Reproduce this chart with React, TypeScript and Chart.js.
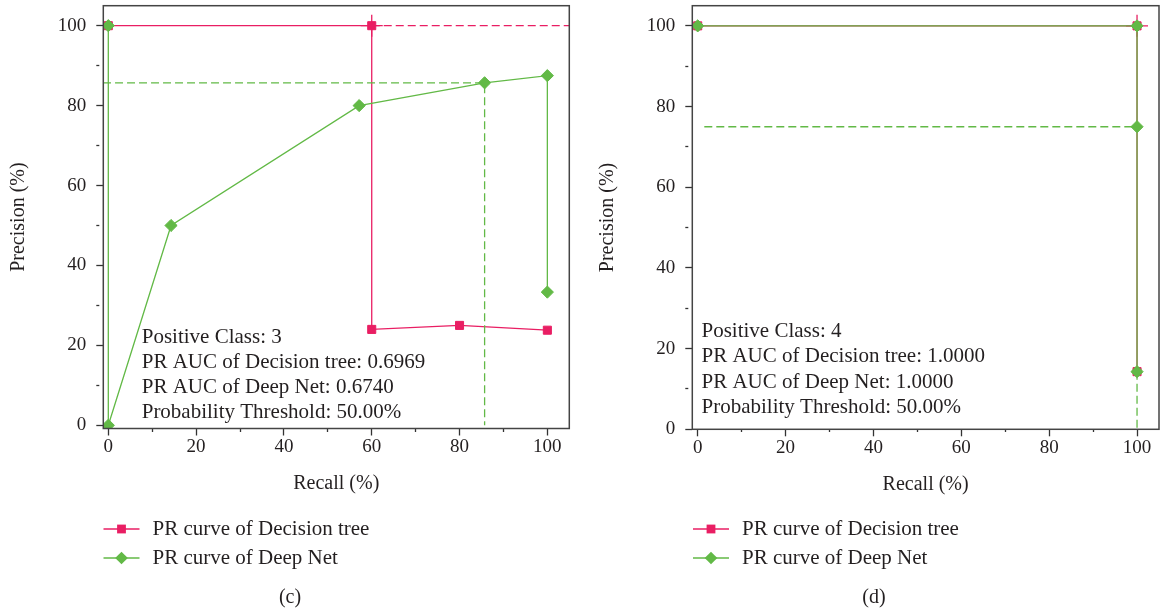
import React, { useEffect, useRef } from 'react';
import { Chart, registerables } from 'chart.js';

Chart.register(...registerables);

const FONT = "'Liberation Serif', 'Times New Roman', serif";
const TEXT = '#231f20';
const RED = '#e91e63';
const GREEN = '#62b946';
const FRAME = '#444444';

// tick values (both axes, both panels)
const majorTicks = [0, 20, 40, 60, 80, 100];
const minorTicks = [10, 30, 50, 70, 90];

const legendLabels = ['PR curve of Decision tree', 'PR curve of Deep Net'];
const xTitle = 'Recall (%)';
const yTitle = 'Precision (%)';

// ---- panel (c): positive class 3 ----
const cTreeRecall = [0, 60, 60, 80, 100];
const cTreePrecision = [100, 100, 24.0, 25.0, 23.8];
const cNetRecall = [0, 0, 14.29, 57.14, 85.71, 100, 100];
const cNetPrecision = [100, 0, 50, 80, 85.71, 87.5, 33.33];
const cTreeThresholdRecall = [60];
const cTreeThresholdPrecision = [100];
const cTreeGuideRecall = [60, 105];
const cTreeGuidePrecision = [100, 100];
const cNetGuideRecall = [-1.2, 85.71, 85.71];
const cNetGuidePrecision = [85.71, 85.71, 0];
const cInfo = [
  'Positive Class: 3',
  'PR AUC of Decision tree: 0.6969',
  'PR AUC of Deep Net: 0.6740',
  'Probability Threshold: 50.00%',
];

// ---- panel (d): positive class 4 ----
const dTreeRecall = [0, 100, 100];
const dTreePrecision = [100, 100, 14.29];
const dNetRecall = [0, 100, 100, 100];
const dNetPrecision = [100, 100, 75, 14.29];
const dTreeThresholdRecall = [100];
const dTreeThresholdPrecision = [100];
const dNetGuideARecall = [1.5, 100];
const dNetGuideAPrecision = [75, 75];
const dNetGuideBRecall = [100, 100];
const dNetGuideBPrecision = [14.29, 0];
const dInfo = [
  'Positive Class: 4',
  'PR AUC of Decision tree: 1.0000',
  'PR AUC of Deep Net: 1.0000',
  'Probability Threshold: 50.00%',
];

const zip = (xs: number[], ys: number[]) => xs.map((x, i) => ({ x, y: ys[i] }));

const curve = (label: string, color: string, style: string, data: any[], order: number, legendIndex: number) => ({
  label,
  legendIndex,
  data,
  showLine: true,
  borderColor: color,
  backgroundColor: color,
  borderWidth: 1.3,
  pointStyle: style,
  pointRadius: style === 'rect' ? 5.7 : 6.1,
  pointBackgroundColor: color,
  pointBorderColor: color,
  pointBorderWidth: 1,
  order,
});

const guide = (color: string, data: any[], order: number) => ({
  label: 'guide',
  data,
  showLine: true,
  borderColor: color,
  borderWidth: 1.3,
  borderDash: [8, 4],
  pointRadius: 0,
  order,
});

const cross = (color: string, data: any[], order: number) => ({
  label: 'threshold',
  data,
  showLine: false,
  pointStyle: 'cross',
  pointRadius: 11,
  pointBorderColor: color,
  pointBackgroundColor: color,
  pointBorderWidth: 1.3,
  order,
});

const panels = [
  {
    key: 'c',
    caption: '(c)',
    info: cInfo,
    layout: {
      yAxisWidth: 103.3, padRight: 10.7, padBottom: 115.5, yTitlePad: 6.5,
      xMin: -1.14, yMin: -0.8,
      infoX: 141.7, infoY: 337, infoGap: 25.2,
      legendX: 103.5, legendY: 529, legendGap: 29,
      captionX: 290, captionY: 598,
    },
    datasets: [
      curve(legendLabels[1], GREEN, 'rectRot', zip(cNetRecall, cNetPrecision), 1, 1),
      guide(GREEN, zip(cNetGuideRecall, cNetGuidePrecision), 2),
      curve(legendLabels[0], RED, 'rect', zip(cTreeRecall, cTreePrecision), 3, 0),
      guide(RED, zip(cTreeGuideRecall, cTreeGuidePrecision), 4),
      cross(RED, zip(cTreeThresholdRecall, cTreeThresholdPrecision), 5),
    ],
  },
  {
    key: 'd',
    caption: '(d)',
    info: dInfo,
    layout: {
      yAxisWidth: 112.3, padRight: 1, padBottom: 114.7, yTitlePad: 15.8,
      xMin: -1.23, yMin: 0,
      infoX: 121.5, infoY: 331, infoGap: 25.5,
      legendX: 113, legendY: 529, legendGap: 29,
      captionX: 294, captionY: 598,
    },
    datasets: [
      curve(legendLabels[1], GREEN, 'rectRot', zip(dNetRecall, dNetPrecision), 1, 1),
      guide(GREEN, zip(dNetGuideARecall, dNetGuideAPrecision), 2),
      guide(GREEN, zip(dNetGuideBRecall, dNetGuideBPrecision), 3),
      curve(legendLabels[0], RED, 'rect', zip(dTreeRecall, dTreePrecision), 4, 0),
      cross(RED, zip(dTreeThresholdRecall, dTreeThresholdPrecision), 5),
    ],
  },
];

const allTicks = [...majorTicks, ...minorTicks].sort((a, b) => a - b);

function makeOverlay(panel: any) {
  return {
    id: 'overlay',
    afterDraw(chart: any) {
      const { ctx, chartArea: a } = chart;
      const L = panel.layout;
      ctx.save();
      // frame
      ctx.strokeStyle = FRAME;
      ctx.lineWidth = 1.5;
      ctx.strokeRect(a.left, a.top, a.right - a.left, a.bottom - a.top);
      // info text
      ctx.fillStyle = TEXT;
      ctx.font = `21px ${FONT}`;
      ctx.textBaseline = 'middle';
      ctx.textAlign = 'left';
      panel.info.forEach((t: string, i: number) => ctx.fillText(t, L.infoX, L.infoY + i * L.infoGap));
      // legend
      const items = chart.data.datasets
        .filter((d: any) => d.legendIndex !== undefined)
        .sort((p: any, q: any) => p.legendIndex - q.legendIndex);
      items.forEach((d: any, i: number) => {
        const y = L.legendY + i * L.legendGap;
        const x0 = L.legendX;
        ctx.strokeStyle = d.borderColor;
        ctx.lineWidth = 1.4;
        ctx.beginPath();
        ctx.moveTo(x0, y);
        ctx.lineTo(x0 + 36, y);
        ctx.stroke();
        ctx.fillStyle = d.pointBackgroundColor;
        const cx = x0 + 18;
        ctx.beginPath();
        if (d.pointStyle === 'rect') {
          ctx.rect(cx - 4.4, y - 4.4, 8.8, 8.8);
        } else {
          const r = 6.3;
          ctx.moveTo(cx - r, y);
          ctx.lineTo(cx, y - r);
          ctx.lineTo(cx + r, y);
          ctx.lineTo(cx, y + r);
          ctx.closePath();
        }
        ctx.fill();
        ctx.fillStyle = TEXT;
        ctx.fillText(d.label, x0 + 49, y);
      });
      // caption
      ctx.font = `20px ${FONT}`;
      ctx.textAlign = 'center';
      ctx.fillText(panel.caption, L.captionX, L.captionY);
      ctx.restore();
    },
  };
}

const isMajor = (v: any) => majorTicks.includes(Number(v));

function buildConfig(panel: any): any {
  const L = panel.layout;
  const tickFont = { family: FONT, size: 19 };
  const titleFont = { family: FONT, size: 20 };
  const grid = {
    display: true,
    drawOnChartArea: false,
    drawTicks: true,
    tickLength: 7,
    tickColor: '#333333',
    tickWidth: 1.3,
    tickBorderDash: (c: any) => (c.tick && isMajor(c.tick.value) ? [] : [3, 50]),
  };
  return {
    type: 'scatter',
    data: { datasets: panel.datasets },
    plugins: [makeOverlay(panel)],
    options: {
      animation: false,
      responsive: true,
      maintainAspectRatio: false,
      events: [],
      layout: {
        autoPadding: false,
        padding: { top: 5.7, right: L.padRight, bottom: L.padBottom, left: 0 },
      },
      plugins: { legend: { display: false }, tooltip: { enabled: false } },
      scales: {
        x: {
          type: 'linear',
          position: 'bottom',
          min: L.xMin,
          max: 105,
          afterBuildTicks: (s: any) => {
            s.ticks = allTicks.map((v) => ({ value: v }));
          },
          afterFit: (s: any) => {
            s.height = 70;
            s.paddingLeft = 0;
            s.paddingRight = 0;
          },
          ticks: {
            autoSkip: false,
            maxRotation: 0,
            padding: 0,
            color: TEXT,
            font: tickFont,
            callback: (v: any) => (isMajor(v) ? String(v) : ''),
          },
          grid,
          border: { display: false },
          title: { display: true, text: xTitle, color: TEXT, font: titleFont, padding: { top: 0, bottom: 2.5 } },
        },
        y: {
          type: 'linear',
          position: 'left',
          min: L.yMin,
          max: 105,
          afterBuildTicks: (s: any) => {
            s.ticks = allTicks.map((v) => ({ value: v }));
          },
          afterFit: (s: any) => {
            s.width = L.yAxisWidth;
            s.paddingTop = 0;
            s.paddingBottom = 0;
          },
          ticks: {
            autoSkip: false,
            padding: 10,
            color: TEXT,
            font: tickFont,
            callback: (v: any) => (isMajor(v) ? String(v) : ''),
          },
          grid,
          border: { display: false },
          title: { display: true, text: yTitle, color: TEXT, font: titleFont, padding: { top: L.yTitlePad, bottom: 0 } },
        },
      },
    },
  };
}

function Panel({ panel }: { panel: any }) {
  const ref = useRef<HTMLCanvasElement | null>(null);
  useEffect(() => {
    if (!ref.current) return;
    const chart = new Chart(ref.current, buildConfig(panel));
    return () => chart.destroy();
  }, [panel]);
  return (
    <div style={{ position: 'relative', width: 580, height: 614 }}>
      <canvas ref={ref} />
    </div>
  );
}

export default function App() {
  return (
    <div
      style={{
        position: 'absolute',
        left: 0,
        top: 0,
        width: 1160,
        height: 614,
        display: 'flex',
        background: '#ffffff',
      }}
    >
      {panels.map((p) => (
        <Panel key={p.key} panel={p} />
      ))}
    </div>
  );
}
